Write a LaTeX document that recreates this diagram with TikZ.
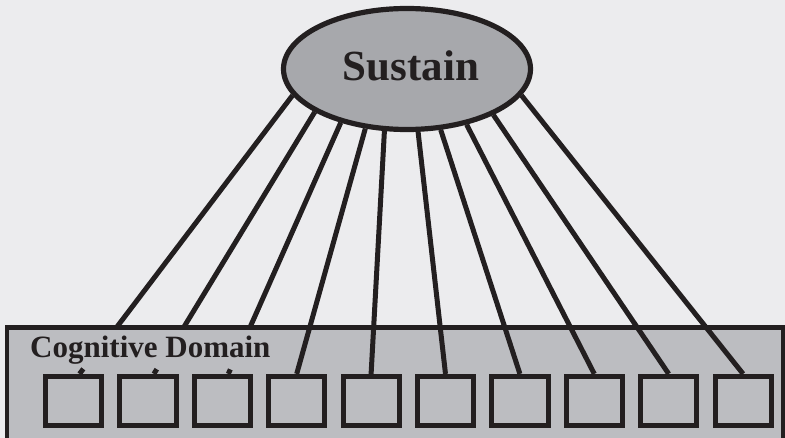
\documentclass[tikz,border=0pt]{standalone}
\usepackage{fontspec}
\setmainfont{Liberation Serif}
\usetikzlibrary{shapes.geometric,calc}
\definecolor{bgback}{RGB}{236,236,238}
\definecolor{sustfill}{RGB}{167,168,172}
\definecolor{domfill}{RGB}{188,189,193}
\definecolor{ink}{RGB}{35,31,32}
\tikzset{
  sustain/.style={ellipse,draw=ink,fill=sustfill,line width=5.2pt,inner sep=0pt,
    minimum width=247pt,minimum height=121pt,text depth=6pt,
    font=\bfseries\fontsize{43}{50}\selectfont,text=ink},
  domainbox/.style={draw=ink,fill=domfill,line width=4.8pt,inner sep=0pt,
    minimum width=776pt,minimum height=112.5pt},
  cell/.style={draw=ink,fill=domfill,line width=5pt,inner sep=0pt,
    minimum width=56.2pt,minimum height=49.2pt},
  link/.style={draw=ink,line width=5pt}
}
\begin{document}
\begin{tikzpicture}[x=1pt,y=-1pt]
\useasboundingbox (0,0) rectangle (785,438);
\fill[bgback] (0,0) rectangle (785,438);
\node[sustain] (sus) at (407,69) {\hspace{8pt}Sustain};
\foreach \i in {1,...,10}
  \coordinate (t\i) at ({73.5+74.4*(\i-1)},376.3);
\foreach \a/\i in {193.5/1,205/2,219/3}
  \draw[link] (sus.\a) -- ($(t\i)+(6,0)$);
\node[domainbox] (dom) at (395,383.75) {};
\node[anchor=base west,inner sep=0pt,text=ink,font=\bfseries\fontsize{31}{36}\selectfont] (lab) at (30,358) {Cognitive Domain};
\foreach \i in {1,...,10}
  \node[cell] (c\i) at ({73.5+74.4*(\i-1)},401) {};
\foreach \a/\i in {193.5/1,205/2,219/3}
  \draw[link] ($(sus.\a)!0.982!($(c\i.north)+(6,0)$)$) -- ($(c\i.north)+(6,0)$);
\foreach \a/\i in {235.5/4,250.7/5,280/6,299.8/7,317.4/8,332/9,347.4/10}
  \draw[link] (sus.\a) -- (c\i.north);
\end{tikzpicture}
\end{document}
